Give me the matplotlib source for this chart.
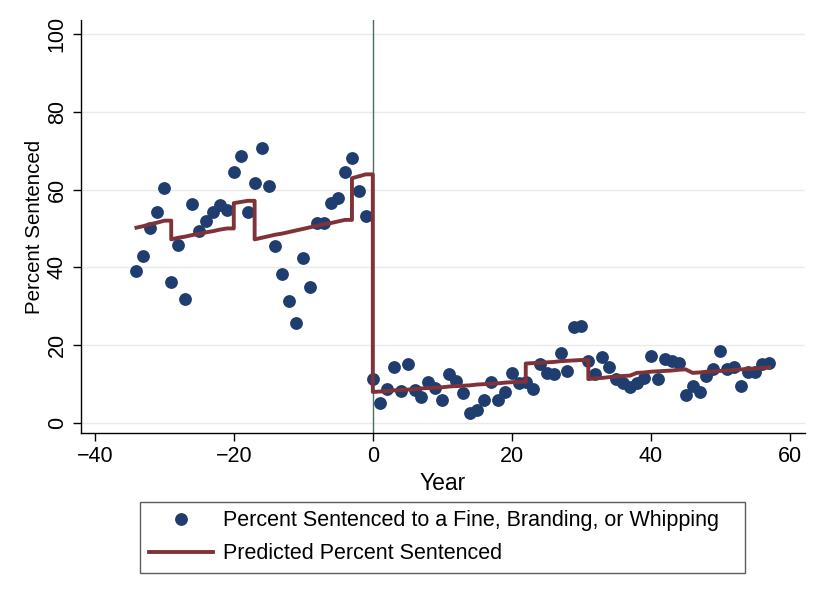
import matplotlib.pyplot as plt
import numpy as np

plt.rcParams['font.family'] = ['Liberation Sans', 'DejaVu Sans']

# years relative to the reform
years = list(range(-34, 58))

# observed percent sentenced to a fine, branding or whipping (one per year)
observed = [
    39.1, 42.9, 50.0, 54.2, 60.4, 36.2, 45.7, 31.8, 56.4, 49.4,
    51.8, 54.2, 55.9, 54.8, 64.4, 68.5, 54.3, 61.8, 70.6, 60.9,
    45.5, 38.3, 31.3, 25.8, 42.3, 34.9, 51.3, 51.5, 56.5, 57.9,
    64.4, 68.2, 59.7, 53.1,
    11.3, 5.2, 8.7, 14.4, 8.2, 15.3, 8.5, 6.8, 10.6, 8.9,
    5.9, 12.5, 10.7, 7.6, 2.5, 3.3, 6.0, 10.6, 6.0, 7.9,
    12.8, 10.2, 10.6, 8.7, 15.2, 12.9, 12.5, 18.1, 13.5, 24.7,
    24.9, 16.0, 12.5, 17.0, 14.5, 11.2, 10.4, 9.2, 10.2, 11.7,
    17.2, 11.3, 16.5, 16.0, 15.4, 7.2, 9.6, 8.0, 12.2, 13.8,
    18.6, 14.0, 14.5, 9.6, 13.2, 13.0, 15.3, 15.5,
]

# predicted percent (piecewise fit)
predicted = [
    50.2, 50.6, 51.1, 51.5, 52.0,
    47.2, 47.6, 47.9, 48.3, 48.6, 49.0, 49.3, 49.7, 50.0,
    56.5, 56.8, 57.1,
    47.2, 47.6, 48.0, 48.4, 48.7, 49.1, 49.5, 49.9, 50.3, 50.7, 51.1, 51.4, 51.8, 52.2,
    62.9, 63.4, 63.9,
    8.0, 8.1, 8.2, 8.4, 8.5, 8.6, 8.7, 8.9, 9.0, 9.1, 9.2,
    9.4, 9.5, 9.6, 9.7, 9.9, 10.0, 10.1, 10.2, 10.4, 10.5, 10.6,
    15.3, 15.4, 15.5, 15.6, 15.7, 15.9, 16.0, 16.1, 16.2,
    11.3, 11.5, 11.6, 11.8, 11.9, 12.1, 12.2,
    12.9, 13.0, 13.2, 13.3, 13.4, 13.5, 13.7, 13.8,
    12.9, 13.0, 13.2, 13.3, 13.4, 13.5, 13.7, 13.8, 13.9, 14.0, 14.2, 14.3,
]

x_ticks = [-40, -20, 0, 20, 40, 60]
y_ticks = [0, 20, 40, 60, 80, 100]

navy = '#1f3d6e'
maroon = '#7f3338'

# straight within a segment, horizontal-then-vertical at a break
px, py = [], []
for i in range(len(years)):
    px.append(years[i])
    py.append(predicted[i])
    if i + 1 < len(years) and abs(predicted[i + 1] - predicted[i]) > 1:
        px.append(years[i + 1])
        py.append(predicted[i])

fig = plt.figure(figsize=(8.25, 6), dpi=100)
ax = fig.add_axes([0.098, 0.278, 0.878, 0.689])

for yv in y_ticks:
    ax.axhline(yv, color='#eaeaea', lw=1, zorder=0)
ax.axvline(0, color='#4a6e62', lw=1, zorder=1)

ax.plot(years, observed, 'o', color=navy, markersize=8.2, zorder=3,
        label='Percent Sentenced to a Fine, Branding, or Whipping')
ax.plot(px, py, color=maroon, lw=2.8, zorder=4,
        label='Predicted Percent Sentenced')

ax.set_xlim(-42, 62.2)
ax.set_ylim(-2.6, 103.6)
ax.set_xticks(x_ticks)
ax.set_yticks(y_ticks)
ax.set_xticklabels([str(t).replace('-', '\u2212') for t in x_ticks])
ax.tick_params(axis='both', labelsize=15.5, length=6, width=1, direction='out')
for lab in ax.get_yticklabels():
    lab.set_rotation(90)
    lab.set_va('center')

for side in ['top', 'right']:
    ax.spines[side].set_visible(False)
for side in ['left', 'bottom']:
    ax.spines[side].set_linewidth(1)

ax.set_xlabel('Year', fontsize=16.5, labelpad=3)
ax.set_ylabel('Percent Sentenced', fontsize=14.8)
ax.yaxis.set_label_coords(-0.051, 0.5)

handles, labels = ax.get_legend_handles_labels()
leg = fig.legend(handles, labels, loc='center', mode='expand',
                 bbox_to_anchor=(0.1697, 0.047, 0.733, 0.115),
                 fontsize=15.5, handlelength=3.0, frameon=True, fancybox=False,
                 borderpad=0.4, borderaxespad=0, labelspacing=0.55,
                 handletextpad=0.45)
leg.get_frame().set_edgecolor('#333333')
leg.get_frame().set_linewidth(1)

fig.savefig('out.png', dpi=100)
